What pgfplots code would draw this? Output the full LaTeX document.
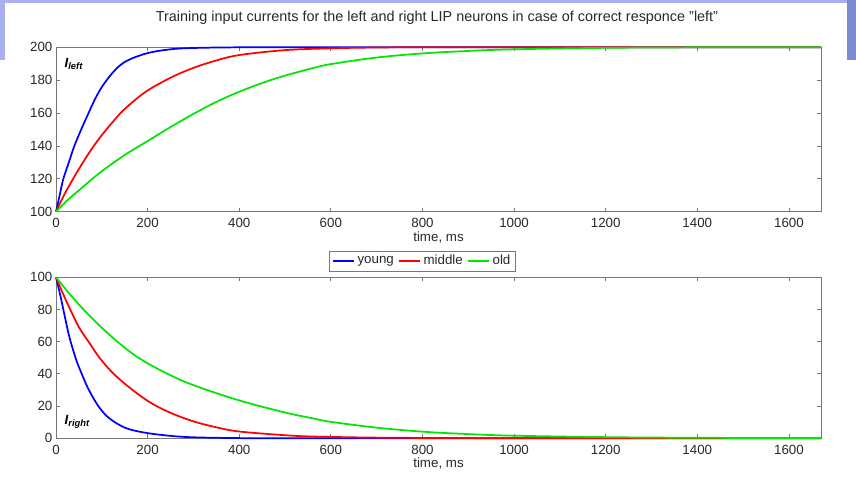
\documentclass[border=0pt]{standalone}
\usepackage{fontspec}
\setmainfont{Liberation Sans}
\usepackage{pgfplots}
\pgfplotsset{compat=1.18}
\definecolor{mblue}{RGB}{0,0,255}
\definecolor{mred}{RGB}{255,0,0}
\definecolor{mgreen}{RGB}{0,230,0}
\definecolor{axgray}{RGB}{120,120,120}
\definecolor{txgray}{RGB}{40,40,40}
\definecolor{slide}{RGB}{168,176,238}
\definecolor{slidedark}{RGB}{70,90,190}

\pgfplotsset{mat/.style={
  scale only axis,
  width=573.75pt, height=123.3pt,
  xmin=0, xmax=1670,
  xtick={0,200,...,1600},
  tick align=inside, tick pos=both, ticklabel pos=left,
  major tick length=3pt,
  axis line style={axgray, line width=0.6pt},
  every tick/.style={axgray, line width=0.6pt},
  tick label style={font=\fontsize{10}{12}\selectfont, text=txgray, inner sep=0pt},
  xticklabel style={anchor=center, yshift=-8.5pt},
  yticklabel style={anchor=east, xshift=-2.5pt},
  /pgf/number format/assume math mode=true,
  /pgf/number format/set thousands separator={},
  xlabel={time,\ ms},
  xlabel style={font=\fontsize{10}{12}\selectfont, text=txgray, inner sep=0pt,
    at={(axis description cs:0.5,0)}, anchor=center, yshift=-19pt},
  every axis plot/.append style={line width=1.3pt, no marks, smooth, tension=0.55},
  clip=false,
}}

\begin{document}
\begin{tikzpicture}
\path[use as bounding box] (0,0) rectangle (642pt,357pt);
% slide frame remnants
\fill[slide] (0,354.5pt) rectangle (642pt,357pt);
\fill[slide] (0,312pt) rectangle (3.8pt,357pt);
\fill[slidedark!70] (635.5pt,312pt) rectangle (642pt,357pt);

\node[font=\fontsize{10.8}{13}\selectfont, text=txgray] at (327.75pt,343.5pt)
  {Training input currents for the left and right LIP neurons in case of correct responce "left"};

\begin{axis}[
  mat,
  at={(42pt,198.2pt)}, anchor=south west,
  ymin=100, ymax=200,
  ytick={100,120,...,200},
]
\addplot[mblue] coordinates {
  (0,100) (8,110) (16,120) (28,130) (40,140) (55,150) (71,160) (87,169.5)
  (104,177.5) (130,186.5) (156,192) (200,196.5) (250,198.8) (300,199.6)
  (400,200) (600,200) (1000,200) (1670,200)
};
\addplot[mred] coordinates {
  (0,100) (12,107) (25,114) (50,126) (75,137) (97,145.5) (125,155) (150,162.5)
  (196,173) (250,181.5) (300,187.5) (350,192) (400,195.3) (500,198.3)
  (600,199.4) (700,199.9) (800,200) (1200,200) (1670,200)
};
\addplot[mgreen] coordinates {
  (0,100) (25,107) (50,113) (97,124) (150,134.5) (200,143) (250,151.5)
  (300,159.5) (350,166.8) (400,173) (450,178.3) (500,182.8) (560,187.3)
  (600,189.8) (700,193.8) (800,196.3) (900,197.8) (1000,198.8) (1200,199.7)
  (1400,200) (1670,200)
};
\node[anchor=west, inner sep=0pt, font=\fontsize{10}{12}\selectfont\bfseries\itshape]
  at (rel axis cs:0.011,0.90) {I\textsubscript{left}};
\end{axis}

\begin{axis}[
  mat,
  at={(42pt,28.3pt)}, anchor=south west,
  height=120.75pt,
  ymin=0, ymax=100,
  ytick={0,20,...,100},
  legend columns=3,
  legend style={at={(axis description cs:0.479,1.101)}, anchor=center,
    draw=axgray, line width=0.5pt, font=\fontsize{10}{12}\selectfont,
    text=txgray, inner xsep=2pt, inner ysep=1pt,
    /tikz/every even column/.append style={column sep=1pt}},
  legend image code/.code={\draw[#1, sharp plot] (0pt,0pt) -- (16pt,0pt);},
]
\addplot[mblue] coordinates {
  (0,100) (10,88) (16,80) (25,68) (32,60) (45,48) (57,39.5) (70,31) (90,21)
  (110,14) (134,9) (160,5.6) (200,3.2) (250,1.5) (300,0.6) (400,0.1)
  (500,0) (900,0) (1670,0)
};
\addplot[mred] coordinates {
  (0,100) (15,90) (31,80) (50,69) (71,60) (95,50) (126,40) (165,30.5)
  (207,22) (250,15.8) (300,10.5) (350,6.8) (400,4.2) (500,1.9) (560,1.1)
  (700,0.4) (900,0.1) (1100,0) (1670,0)
};
\addplot[mgreen] coordinates {
  (0,100) (30,89.5) (60,80) (95,70) (134,60) (180,50) (240,40.5) (300,33)
  (400,23.5) (500,16) (560,12.4) (600,10.2) (700,6.6) (800,4.1) (900,2.6)
  (1000,1.6) (1200,0.7) (1400,0.3) (1670,0.1)
};
\legend{young,middle,old}
\node[anchor=west, inner sep=0pt, font=\fontsize{10}{12}\selectfont\bfseries\itshape]
  at (rel axis cs:0.011,0.10) {I\textsubscript{right}};
\end{axis}
\end{tikzpicture}
\end{document}
